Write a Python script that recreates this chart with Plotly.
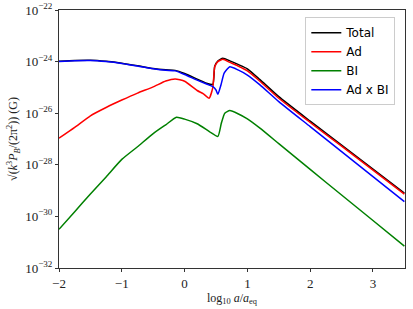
import plotly.graph_objects as go

# log10 a/a_eq positions and log10 amplitude values (G)
x_total = [-2.0, -1.75, -1.5, -1.25, -1.0, -0.75, -0.5, -0.3, -0.15, 0.0, 0.2, 0.35, 0.45, 0.48, 0.53, 0.61, 0.72, 0.85, 1.0, 1.2, 1.5, 2.0, 2.5, 3.0, 3.5]
v_total = [-23.99, -23.96, -23.95, -23.99, -24.06, -24.16, -24.27, -24.32, -24.34, -24.46, -24.68, -24.84, -24.88, -24.18, -23.98, -23.87, -23.97, -24.11, -24.28, -24.70, -25.36, -26.31, -27.24, -28.17, -29.10]

x_ad = [-2.0, -1.75, -1.5, -1.25, -1.0, -0.75, -0.5, -0.3, -0.15, 0.0, 0.2, 0.3, 0.39, 0.45, 0.48, 0.53, 0.61, 0.72, 0.85, 1.0, 1.2, 1.5, 2.0, 2.5, 3.0, 3.5]
v_ad = [-26.97, -26.55, -26.10, -25.78, -25.49, -25.22, -24.98, -24.75, -24.67, -24.76, -25.12, -25.25, -25.42, -25.00, -24.20, -24.00, -23.91, -24.03, -24.17, -24.36, -24.76, -25.42, -26.36, -27.28, -28.21, -29.14]

x_bi = [-2.0, -1.75, -1.5, -1.25, -1.0, -0.75, -0.5, -0.3, -0.13, 0.0, 0.2, 0.4, 0.53, 0.585, 0.64, 0.72, 0.85, 1.0, 1.2, 1.5, 2.0, 2.5, 3.0, 3.5]
v_bi = [-30.50, -29.82, -29.13, -28.47, -27.79, -27.30, -26.79, -26.45, -26.16, -26.23, -26.41, -26.72, -26.90, -26.39, -26.00, -25.90, -26.02, -26.22, -26.58, -27.18, -28.18, -29.17, -30.16, -31.15]

x_adbi = [-2.0, -1.75, -1.5, -1.25, -1.0, -0.75, -0.5, -0.3, -0.15, 0.0, 0.2, 0.35, 0.45, 0.5, 0.53, 0.58, 0.63, 0.72, 0.85, 1.0, 1.2, 1.5, 2.0, 2.5, 3.0, 3.5]
v_adbi = [-24.00, -23.97, -23.96, -24.00, -24.07, -24.17, -24.28, -24.34, -24.36, -24.50, -24.72, -24.87, -24.97, -25.10, -25.27, -24.90, -24.45, -24.20, -24.32, -24.52, -24.90, -25.55, -26.52, -27.49, -28.46, -29.43]

series = [
    ("Total", x_total, v_total, "black"),
    ("Ad", x_ad, v_ad, "#ff0000"),
    ("BI", x_bi, v_bi, "#008000"),
    ("Ad x BI", x_adbi, v_adbi, "#0000ff"),
]

y_exps = [-22, -24, -26, -28, -30, -32]
x_ticks = [-2, -1, 0, 1, 2, 3]

fig = go.Figure()
for name, xs, vs, col in series:
    fig.add_trace(go.Scatter(x=xs, y=[10 ** v for v in vs], mode="lines", name=name,
                             line=dict(color=col, width=1.5, shape="spline", smoothing=0.5)))

serif = "Liberation Serif, DejaVu Serif, serif"
fig.update_layout(
    width=413, height=309,
    margin=dict(l=59, r=8, t=10, b=41),
    paper_bgcolor="white", plot_bgcolor="white",
    showlegend=True,
    legend=dict(x=0.972, y=0.972, xanchor="right", yanchor="top",
                bgcolor="white", bordercolor="#cccccc", borderwidth=1,
                font=dict(family="DejaVu Sans, sans-serif", size=12, color="black"),
                itemwidth=30, tracegroupgap=0),
    xaxis=dict(range=[-2, 3.51], tickvals=x_ticks, ticktext=["−2", "−1", "0", "1", "2", "3"],
               ticks="outside", ticklen=3, tickcolor="#333", showline=True, linecolor="#333",
               linewidth=1, mirror=True, showgrid=False, zeroline=False, automargin=False,
               tickfont=dict(family=serif, size=13, color="#222"),
               title=dict(text="log<sub>10</sub> <i>a</i>/<i>a</i><sub>eq</sub>",
                          font=dict(family=serif, size=12, color="#222"), standoff=0)),
    yaxis=dict(type="log", range=[-32, -22], tickvals=[10 ** e for e in y_exps],
               ticktext=["10<sup>−%d</sup>" % (-e) for e in y_exps],
               ticks="outside", ticklen=3, tickcolor="#333", showline=True, linecolor="#333",
               linewidth=1, mirror=True, showgrid=False, zeroline=False, automargin=False,
               tickfont=dict(family=serif, size=13, color="#222"),
               title=dict(text="√(<i>k</i><sup>3</sup><i>P</i><sub><i>B</i></sub>/(2π<sup>2</sup>)) (G)",
                          font=dict(family=serif, size=12, color="#222"), standoff=4)),
)
fig.write_html("out.html", config={"displayModeBar": False},
               post_script="document.body.style.margin='0';document.body.style.overflow='hidden';")
